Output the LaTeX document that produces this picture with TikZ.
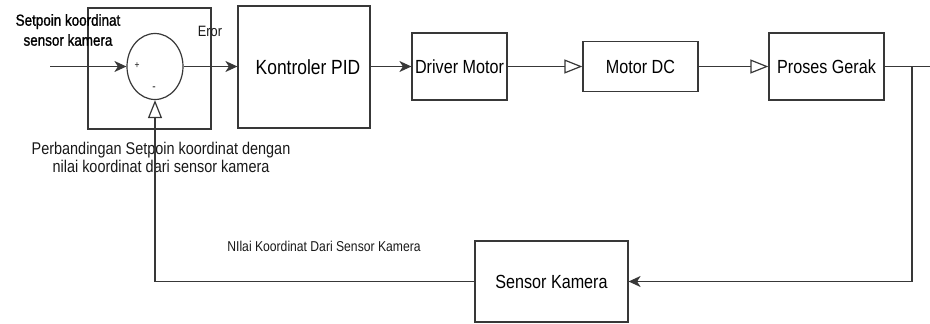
\documentclass[tikz,border=0pt]{standalone}
\usepackage{fontspec}
\setmainfont[FakeStretch=0.85]{Liberation Sans}
\newfontfamily\semibd[FakeStretch=0.84,FakeBold=1.2]{Liberation Sans}
\usetikzlibrary{arrows.meta,shapes.geometric}
\tikzset{
  ln/.style={draw=black!78, line width=1.2pt},
  box/.style={ln, rectangle, inner sep=0pt, font=\fontsize{19}{22}\selectfont},
  arr/.style={ln, -{Stealth[length=12pt,width=11pt,inset=3.5pt]}},
  oarr/.style={ln, -{Triangle[open,fill=white,length=18pt,width=14pt]}},
  lbl/.style={inner sep=0pt, align=center, text=black!90}
}
\begin{document}
\begin{tikzpicture}[x=1pt,y=-1pt]
\useasboundingbox (0,0) rectangle (930,324);
% outer comparator box
\node[box, minimum width=123pt, minimum height=121pt] (cmp) at (149.5,68.5) {};
\node[ln, ellipse, minimum width=56pt, minimum height=66pt, inner sep=0pt] (sum) at (155,66.5) {};
\node[lbl, font=\fontsize{10}{12}\selectfont] (plus) at (137,66) {+};
\node[lbl, font=\fontsize{12}{12}\selectfont] (minus) at (154,89) {-};
% blocks
\node[box, minimum width=132pt, minimum height=122pt, font=\fontsize{20.5}{22}\selectfont] (pid) at (304,67) {\hspace*{8pt}Kontroler PID};
\node[box, minimum width=95pt, minimum height=67pt] (drv) at (459.5,66.5) {Driver Motor};
\node[box, minimum width=115pt, minimum height=50pt] (mdc) at (640.5,66.5) {Motor DC};
\node[box, minimum width=115pt, minimum height=67pt] (pg) at (826.5,66.5) {Proses Gerak};
\node[box, minimum width=153pt, minimum height=81pt] (sk) at (551.5,281.5) {Sensor Kamera};
% labels
\node[lbl, text=black, font=\semibd\fontsize{16}{20}\selectfont] (sp) at (68,30) {Setpoin koordinat\\sensor kamera};
\node[lbl, font=\fontsize{15}{18}\selectfont] (err) at (210,31) {Eror};
\node[lbl, font=\fontsize{17}{18}\selectfont] (cmpl) at (161,157) {Perbandingan Setpoin koordinat dengan\\nilai koordinat dari sensor kamera};
\node[lbl, font=\fontsize{14.3}{16}\selectfont] (fbl) at (324,246) {NIlai Koordinat Dari Sensor Kamera};
% connectors
\coordinate (in) at (50,66.5);
\coordinate (edge) at (930,66.5);
\coordinate (tap) at (912,66.5);
\draw[arr] (in) -- (sum.west);
\draw[arr] (sum.east) -- (sum.east -| pid.west);
\draw[arr] (pid.east |- drv.west) -- (drv.west);
\draw[oarr] (drv.east) -- (drv.east -| mdc.west);
\draw[oarr] (mdc.east) -- (mdc.east -| pg.west);
\draw[ln] (pg.east) -- (edge);
\draw[arr] (tap) |- (sk.east);
\draw[oarr] (sk.west) -| (sum.south);
\end{tikzpicture}
\end{document}
